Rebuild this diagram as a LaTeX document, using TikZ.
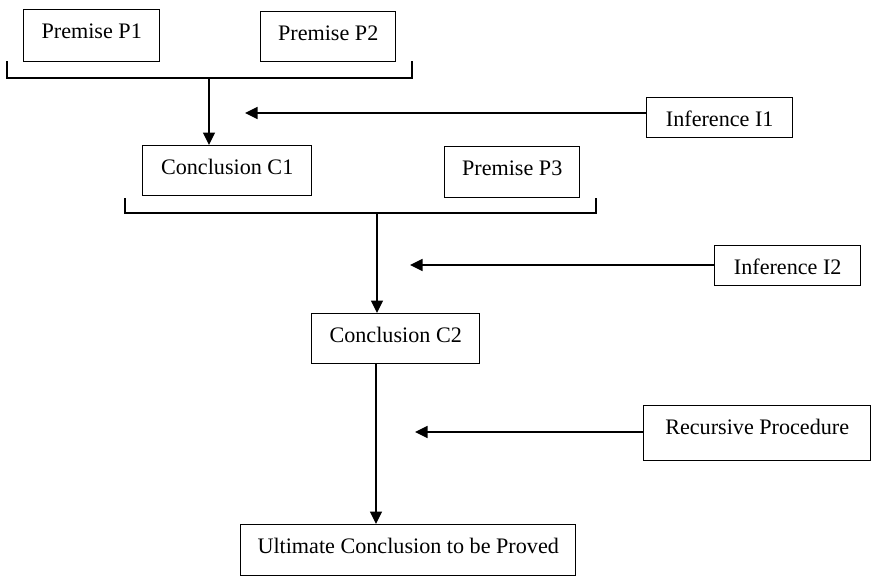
\documentclass[tikz,border=0pt]{standalone}
\usepackage{fontspec}
\setmainfont{Liberation Serif}
\usetikzlibrary{arrows.meta}

\tikzset{
  stmt/.style={draw, line width=0.8pt, inner sep=0pt, anchor=north west,
    text height=5.7mm, font=\fontsize{12.6}{15}\selectfont},
  flow/.style={line width=0.8pt, -{Triangle[length=2.5mm,width=2.4mm]}}
}

\begin{document}
\begin{tikzpicture}
\useasboundingbox (0,0) rectangle (17.44,-11.54);

\node[stmt, minimum width=2.72cm, text depth=4.7mm] (p1) at (0.46,-0.18) {Premise P1};
\node[stmt, minimum width=2.70cm, text depth=4.3mm] (p2) at (5.20,-0.22) {Premise P2};
\node[stmt, minimum width=2.92cm, text depth=2.3mm] (i1) at (12.92,-1.94) {Inference I1};
\node[stmt, minimum width=3.38cm, text depth=4.3mm] (c1) at (2.84,-2.90) {Conclusion C1};
\node[stmt, minimum width=2.70cm, text depth=4.5mm] (p3) at (8.88,-2.92) {Premise P3};
\node[stmt, minimum width=2.92cm, text depth=2.3mm] (i2) at (14.28,-4.90) {Inference I2};
\node[stmt, minimum width=3.36cm, text depth=4.3mm] (c2) at (6.22,-6.26) {Conclusion C2};
\node[stmt, minimum width=4.54cm, text depth=5.3mm] (rp) at (12.86,-8.10) {Recursive Procedure};
\node[stmt, minimum width=6.70cm, text depth=4.5mm] (uc) at (4.80,-10.48) {Ultimate Conclusion to be Proved};

% brackets joining the premises
\draw[line width=0.8pt] (0.14,-1.22) -- (0.14,-1.56) -- (8.24,-1.56) -- (8.24,-1.22);
\draw[line width=0.8pt] (2.50,-3.96) -- (2.50,-4.26) -- (11.92,-4.26) -- (11.92,-3.96);
\coordinate (j1) at (4.18,-1.56);
\coordinate (j2) at (7.54,-4.26);
\coordinate (j3) at (7.52,-7.26);

\draw[flow] (j1) -- (j1 |- c1.north);
\draw[flow] (j2) -- (j2 |- c2.north);
\draw[flow] (j3 |- c2.south) -- (j3 |- uc.north);

% rules of inference
\coordinate (t1) at (4.90,-2.26);
\coordinate (t2) at (8.20,-5.30);
\coordinate (t3) at (8.30,-8.64);
\draw[flow] (i1.west |- t1) -- (t1);
\draw[flow] (i2.west |- t2) -- (t2);
\draw[flow] (rp.west |- t3) -- (t3);
\end{tikzpicture}
\end{document}
